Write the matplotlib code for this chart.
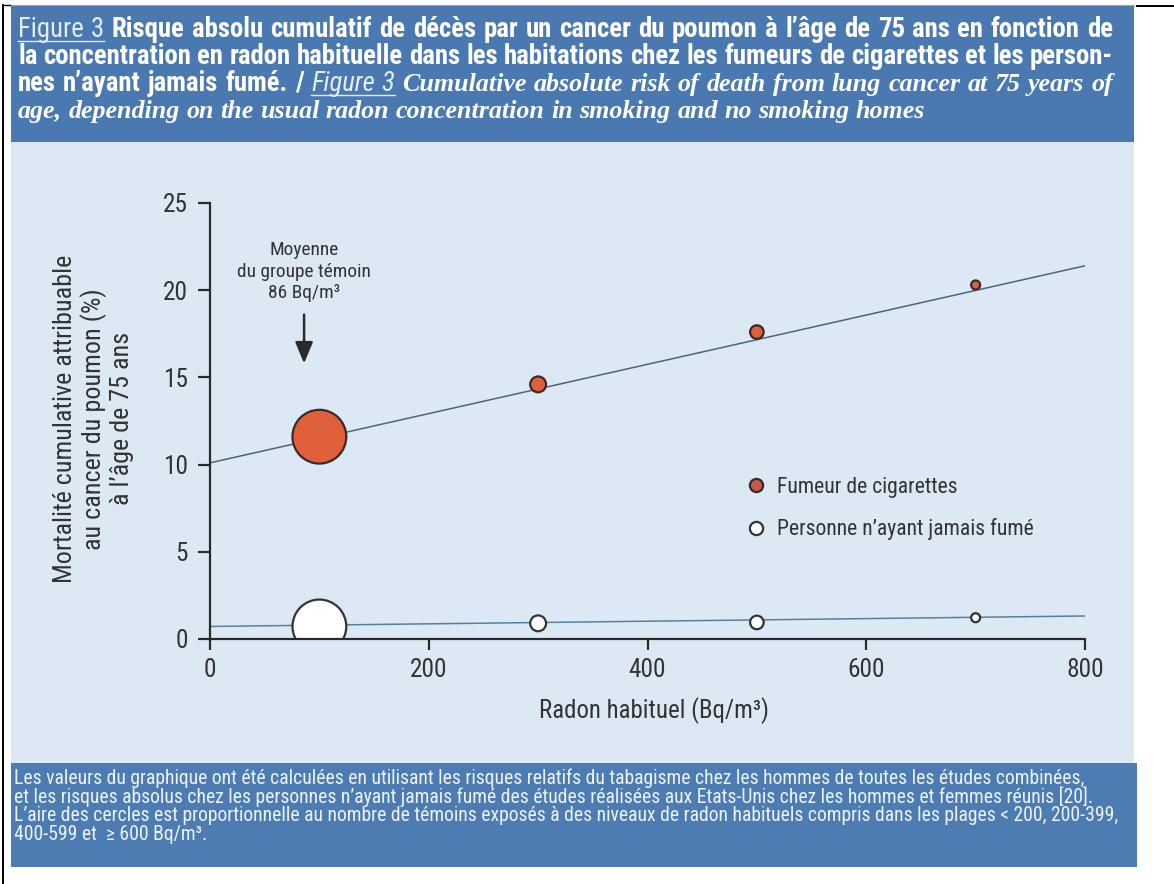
import matplotlib
matplotlib.use("Agg")
import matplotlib.pyplot as plt
from matplotlib import font_manager as fm
from matplotlib.lines import Line2D
from matplotlib.patches import Rectangle, ArrowStyle

# ---------------- data ----------------
radon = [100, 300, 500, 700]                 # Bq/m3 (class mid-points)
smoker_risk = [11.6, 14.6, 17.6, 20.3]       # %
never_risk = [0.72, 0.9, 0.95, 1.22]         # %
circle_area = [1500, 130, 95, 42]            # marker area ~ number of controls
fit_x = [0, 800]
smoker_fit = [10.1, 21.4]
never_fit = [0.72, 1.32]
x_ticks = [0, 200, 400, 600, 800]
y_ticks = [0, 5, 10, 15, 20, 25]
control_mean = 86

legend_labels = ["Fumeur de cigarettes", "Personne n\u2019ayant jamais fumé"]
xlabel = "Radon habituel (Bq/m³)"
ylabel = "Mortalité cumulative attribuable\nau cancer du poumon (%)\nà l\u2019âge de 75 ans"
annot = "Moyenne\ndu groupe témoin\n86 Bq/m³"
footer_lines = [
    "Les valeurs du graphique ont été calculées en utilisant les risques relatifs du tabagisme chez les hommes de toutes les études combinées,",
    "et les risques absolus chez les personnes n\u2019ayant jamais fumé des études réalisées aux Etats-Unis chez les hommes et femmes réunis [20].",
    "L\u2019aire des cercles est proportionnelle au nombre de témoins exposés à des niveaux de radon habituels compris dans les plages < 200, 200-399,",
    "400-599 et  ≥ 600 Bq/m³.",
]

# ---------------- fonts ----------------
names = {f.name for f in fm.fontManager.ttflist}
COND = None
for cand in ["Liberation Sans Narrow", "Roboto Condensed", "Open Sans Condensed",
             "DejaVu Sans Condensed", "Liberation Sans"]:
    if cand in names:
        COND = cand
        break
if COND is None:
    COND = "DejaVu Sans"
SERIF = "Liberation Serif" if "Liberation Serif" in names else "DejaVu Serif"
FAM = [COND, "DejaVu Sans"]
plt.rcParams["font.family"] = FAM

W, H = 1174, 884
fig = plt.figure(figsize=(W / 100, H / 100), dpi=100)
fig.patch.set_facecolor("white")
renderer = fig.canvas.get_renderer()

HEAD_BLUE = "#4a79b1"
FOOT_BLUE = "#4d7cb3"
LIGHT = "#dce9f5"
DARK = "#333333"


def px_rect(x0, y0, x1, y1, color, z=-5):
    fig.patches.append(Rectangle((x0 / W, 1 - y1 / H), (x1 - x0) / W, (y1 - y0) / H,
                                 transform=fig.transFigure, facecolor=color,
                                 edgecolor="none", zorder=z))


def px_line(x0, y0, x1, y1, color, lw, z=5):
    fig.add_artist(Line2D([x0 / W, x1 / W], [1 - y0 / H, 1 - y1 / H],
                          transform=fig.transFigure, color=color, lw=lw, zorder=z))


# background panels
px_rect(11, 6, 1134, 142, HEAD_BLUE)
px_rect(11, 142, 1134, 763, LIGHT)
px_rect(11, 763, 1137, 867, FOOT_BLUE)
px_line(3, 5, 3, 884, "black", 1.4)
px_line(3, 5, 11, 5, "black", 1.0)
px_line(11, 5, 1134, 5, "#9aa3ad", 0.8)
px_line(1137, 6, 1174, 6, "black", 1.4)


def measure(s, **kw):
    t = fig.text(0, 0, s, **kw)
    w = t.get_window_extent(renderer).width
    t.remove()
    return w


def draw_line(segments, x0, baseline, target=None):
    words = []
    for si, (text, kw, ul) in enumerate(segments):
        for wd in text.split():
            words.append((wd, kw, ul, si))
    widths = [measure(w, **kw) for w, kw, ul, si in words]
    n = len(words)
    if target is not None and n > 1:
        gaps = [(target - sum(widths)) / (n - 1)] * n
    else:
        gaps = [measure("a a", **kw) - measure("aa", **kw) for w, kw, ul, si in words]
    x = x0
    spans = {}
    for (wd, kw, ul, si), w, g in zip(words, widths, gaps):
        fig.text(x / W, 1 - baseline / H, wd, ha="left", va="baseline", **kw)
        if ul:
            s = spans.setdefault(si, [x, x + w, kw.get("color", "white")])
            s[1] = x + w
        x += w + g
    for si, (a, b, c) in spans.items():
        px_line(a, baseline + 3.5, b, baseline + 3.5, c, 1.0)


# ---------------- header ----------------
bold = dict(family=FAM, fontweight="bold", color="white")
light = dict(family=FAM, fontweight="normal", color="#e4ecf6")
ital = dict(family=[SERIF, "DejaVu Serif"], fontweight="bold", fontstyle="italic", color="white")
ital_l = dict(family=FAM, fontweight="normal", fontstyle="italic", color="#e4ecf6")

line1 = "Figure 3 Risque absolu cumulatif de décès par un cancer du poumon à l\u2019âge de 75 ans en fonction de"
hs = 12 * 1075 / measure(line1, fontsize=12, **bold)
line4 = "age, depending on the usual radon concentration in smoking and no smoking homes"
its = 12 * 905 / measure(line4, fontsize=12, **ital)
its = min(its, hs * 1.25)
for d in (bold, light):
    d["fontsize"] = hs
ital["fontsize"] = its
ital_l["fontsize"] = hs

draw_line([("Figure 3", light, True),
           ("Risque absolu cumulatif de décès par un cancer du poumon à l\u2019âge de 75 ans en fonction de", bold, False)],
          18, 37, target=1095)
draw_line([("la concentration en radon habituelle dans les habitations chez les fumeurs de cigarettes et les person-", bold, False)],
          18, 64, target=1095)
draw_line([("nes n\u2019ayant jamais fumé. /", bold, False),
           ("Figure 3", ital_l, True),
           ("Cumulative absolute risk of death from lung cancer at 75 years of", ital, False)],
          18, 91, target=1095)
draw_line([(line4, ital, False)], 18, 118)

# ---------------- footer ----------------
foot = dict(family=FAM, color="#eef3fa")
fs_foot = 12 * 1066 / measure(footer_lines[0], fontsize=12, **foot)
for i, txt in enumerate(footer_lines):
    fig.text(14 / W, 1 - (784 + 18.7 * i) / H, txt, ha="left", va="baseline",
             fontsize=fs_foot, **foot)

# ---------------- chart ----------------
ax = fig.add_axes([210 / W, 1 - 639 / H, 875 / W, 436 / H])
ax.set_zorder(2)
ax.set_facecolor("none")
ax.set_xlim(0, 800)
ax.set_ylim(0, 25)

line_col = "#4e6574"
ax.plot(fit_x, smoker_fit, color=line_col, lw=1.1, zorder=2)
ax.plot(fit_x, never_fit, color="#54809e", lw=1.1, zorder=2)
sc1 = ax.scatter(radon, smoker_risk, s=circle_area, c="#e0603b", edgecolors="#3a2a28",
                 linewidths=1.6, zorder=3)
sc2 = ax.scatter(radon, never_risk, s=circle_area, c="white", edgecolors="#333333",
                 linewidths=1.6, zorder=3)

# strip of background just below the x axis (keeps the big circle cut at y = 0)
ax.add_patch(Rectangle((-0.02, -0.04), 1.04, 0.04, transform=ax.transAxes,
                       facecolor=LIGHT, edgecolor="none", zorder=3.5, clip_on=False))

for sp in ("top", "right"):
    ax.spines[sp].set_visible(False)
for sp in ("left", "bottom"):
    ax.spines[sp].set_linewidth(1.6)
    ax.spines[sp].set_color("#2a2a2a")
    ax.spines[sp].set_zorder(4)
ax.xaxis.set_zorder(5)
ax.yaxis.set_zorder(5)

lab_fs = 12 * 328 / measure(ylabel.split("\n")[0], fontsize=12, family=FAM)
tick_fs = lab_fs * 0.97
ax.set_xticks(x_ticks)
ax.set_yticks(y_ticks)
ax.set_xticklabels([str(v) for v in x_ticks])
ax.set_yticklabels([str(v) for v in y_ticks])
ax.tick_params(axis="y", direction="out", length=9, width=1.6, pad=7, color="#2a2a2a",
               labelsize=tick_fs, labelcolor=DARK)
ax.tick_params(axis="x", direction="out", length=8, width=1.6, pad=6, color="#2a2a2a",
               labelsize=tick_fs, labelcolor=DARK)

ax.set_ylabel(ylabel, family=FAM, fontsize=lab_fs, color=DARK, linespacing=1.15,
              multialignment="center")
ax.yaxis.set_label_coords(-0.087, 0.505)
ax.set_xlabel(xlabel, family=FAM, fontsize=lab_fs * 0.95, color=DARK)
ax.xaxis.set_label_coords(0.507, -0.133)

ann_fs = 12 * 134 / measure("du groupe témoin", fontsize=12, family=FAM)
ax.text(control_mean, 19.3, annot, ha="center", va="bottom", family=FAM,
        fontsize=ann_fs, color=DARK, linespacing=1.25)
ax.annotate("", xy=(control_mean, 15.8), xytext=(control_mean, 18.6),
            arrowprops=dict(arrowstyle=ArrowStyle("-|>", head_length=0.65, head_width=0.27),
                            mutation_scale=20, color="#2a2a2a", lw=1.8,
                            shrinkA=0, shrinkB=0))

handles = [Line2D([], [], ls="none", marker="o", markersize=9.5,
                  markerfacecolor="#c8564a", markeredgecolor="#3a2a28", markeredgewidth=1.6),
           Line2D([], [], ls="none", marker="o", markersize=9.5,
                  markerfacecolor="white", markeredgecolor="#333333", markeredgewidth=1.6)]
leg_fs = 12 * 180 / measure(legend_labels[0], fontsize=12, family=FAM)
leg = ax.legend(handles, legend_labels, loc="upper left", bbox_to_anchor=(0.612, 0.372),
                frameon=False, prop=dict(family=FAM, size=leg_fs), handlelength=1.0,
                handletextpad=0.45, borderpad=0, borderaxespad=0, labelspacing=0.95)
for t in leg.get_texts():
    t.set_color(DARK)

fig.savefig("out.png", dpi=100, facecolor=fig.get_facecolor())
